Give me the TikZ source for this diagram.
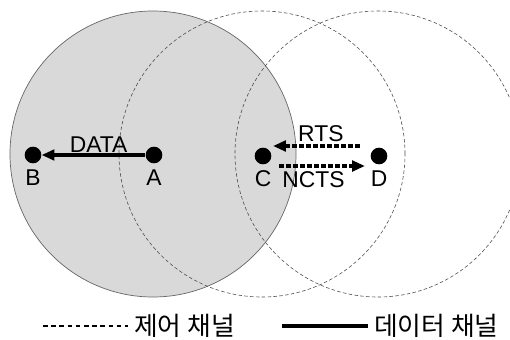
\documentclass[tikz,border=0pt]{standalone}
\usepackage{fontspec}
\setmainfont{Liberation Sans}
\newfontfamily\kor{Noto Sans CJK KR}
\usetikzlibrary{arrows.meta}

\begin{document}
\begin{tikzpicture}[x=0.03cm,y=-0.03cm,>={Triangle[length=11pt,width=9pt]},label distance=4pt,
    main node/.style={circle,fill=black,inner sep=0pt,minimum size=0.5cm},
    radio range/.style={draw=black!70,dash pattern=on 3pt off 2pt,line width=0.5pt},
    ctrl msg/.style={->,line width=2.8pt,dash pattern=on 4pt off 2pt},
    every label/.style={font=\fontsize{19.5}{22}\selectfont,inner sep=1pt},
    legend/.style={anchor=west,inner sep=5pt,font=\kor\fontsize{22}{24}\selectfont}]
    \useasboundingbox (0,0) rectangle (510,339);

    % transmission ranges
    \draw[fill=black!15,draw=black!60,line width=0.6pt] (153,154) circle [radius=4.29cm];
    \draw[radio range] (262,154) circle [radius=4.29cm];
    \draw[radio range] (378,154) circle [radius=4.29cm];

    \node[main node,label=below:B] (B) at (33,155) {};
    \node[main node,label=below:A] (A) at (154,155) {};
    \node[main node,label=below:C] (C) at (263,156) {};
    \node[main node,label=below:D] (D) at (379,156) {};

    \path[every node/.style={font=\fontsize{19.5}{22}\selectfont,inner sep=1pt}]
        (A) edge[->,line width=2.8pt] node[above,pos=0.45] {DATA} (B)
        ([shift={(-19,-10)}]D.center) edge[ctrl msg] node[above,pos=0.45,inner sep=2pt] {RTS} ([shift={(10,-10)}]C.center)
        ([shift={(16,10)}]C.center) edge[ctrl msg] node[below,pos=0.4,inner sep=3.5pt] {NCTS} ([shift={(-14,10)}]D.center);

    % legend
    \coordinate (c0) at (43,326);
    \coordinate (d0) at (282,326);
    \node[legend] (ctrl) at (128,326) {제어 채널};
    \node[legend] (data) at (368,326) {데이터 채널};
    \draw[line width=2.2pt,dash pattern=on 4pt off 3pt] (c0) -- (ctrl.west);
    \draw[line width=3pt] (d0) -- (data.west);
\end{tikzpicture}
\end{document}
